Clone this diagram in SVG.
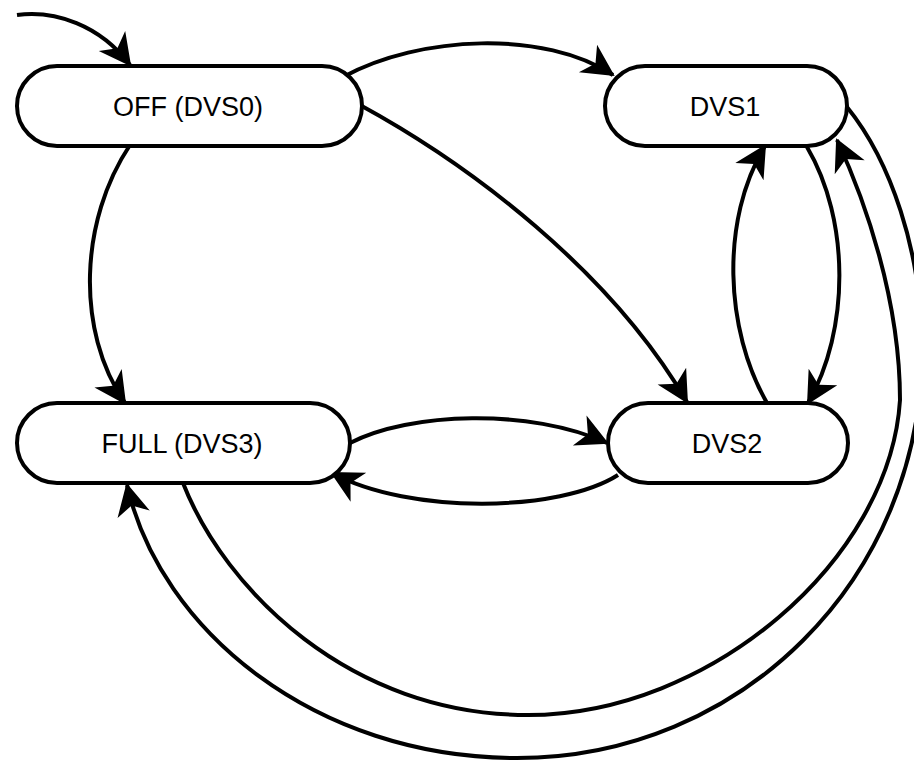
<svg xmlns="http://www.w3.org/2000/svg" width="914" height="761" viewBox="0 0 914 761">
  <style>
    .state rect { fill: #ffffff; stroke: #000000; stroke-width: 4; }
    .state text { font-family: "Liberation Sans", Arial, sans-serif; font-size: 27px; fill: #000000; text-anchor: middle; }
    .edge { fill: none; stroke: #000000; stroke-width: 4; marker-end: url(#arrow); }
  </style>
  <defs>
    <!-- notched filled arrowhead, sized in user units -->
    <marker id="arrow" markerUnits="userSpaceOnUse" markerWidth="40" markerHeight="40" refX="0" refY="0" orient="auto" overflow="visible">
      <path d="M 2 0 L -30 -16.5 L -21 0 L -30 16.5 Z" fill="#000000"/>
    </marker>
  </defs>

  <!-- transitions -->
  <g id="connectors">
    <path class="edge" d="M 17 15 C 55 10, 100 25, 130 65"/>
    <path class="edge" d="M 343 77 C 420 35, 545 30, 613 75"/>
    <path class="edge" d="M 360 105 C 470 165, 610 270, 687 402"/>
    <path class="edge" d="M 130 145 C 80 220, 75 330, 125 403"/>
    <path class="edge" d="M 350 443 C 410 412, 530 408, 607 443"/>
    <path class="edge" d="M 618 475 C 560 512, 410 515, 332 473"/>
    <path class="edge" d="M 767 403 C 725 330, 720 220, 765 146"/>
    <path class="edge" d="M 807 147 C 850 220, 850 330, 808 403"/>
    <path class="edge" d="M 847 107 C 890 160, 922 250, 922 350 C 922 580, 740 758, 517 758 C 315 758, 160 630, 127 485"/>
    <path class="edge" d="M 183 483 C 225 590, 350 715, 528 715 C 710 715, 890 560, 900 400 C 900 300, 865 200, 837 140"/>
  </g>

  <g id="off" class="state">
    <rect x="17" y="66" width="345" height="80" rx="40" ry="40"/>
    <text x="188" y="116">OFF (DVS0)</text>
  </g>
  <g id="dvs1" class="state">
    <rect x="605" y="66" width="242" height="80" rx="40" ry="40"/>
    <text x="725" y="116">DVS1</text>
  </g>
  <g id="full" class="state">
    <rect x="17" y="403" width="333" height="80" rx="40" ry="40"/>
    <text x="182" y="453">FULL (DVS3)</text>
  </g>
  <g id="dvs2" class="state">
    <rect x="608" y="403" width="240" height="80" rx="40" ry="40"/>
    <text x="727" y="453">DVS2</text>
  </g>
</svg>
